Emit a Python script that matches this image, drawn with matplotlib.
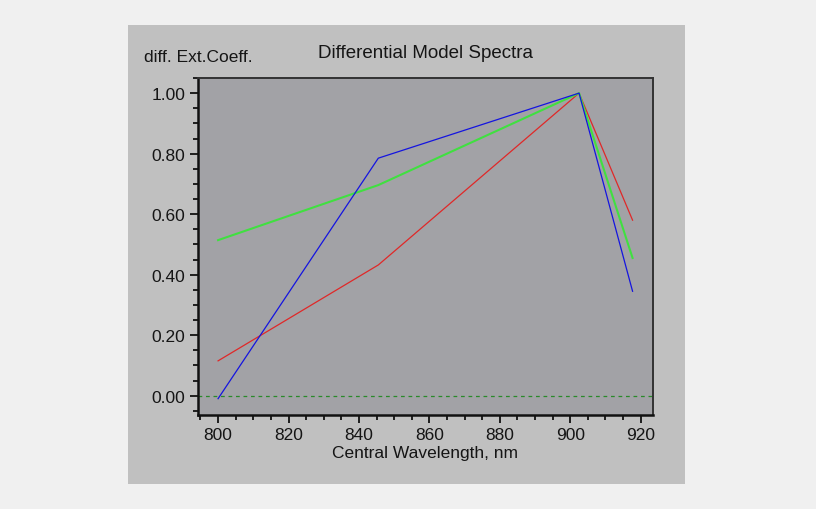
import matplotlib
matplotlib.use("Agg")
import matplotlib.pyplot as plt
from matplotlib.patches import Rectangle
from matplotlib.ticker import MultipleLocator, FormatStrFormatter

plt.rcParams['font.family'] = ['Liberation Sans', 'DejaVu Sans']

wavelength = [800, 845.5, 902.5, 917.7]
blue_vals = [-0.01, 0.785, 1.0, 0.345]
green_vals = [0.514, 0.696, 1.0, 0.455]
red_vals = [0.115, 0.432, 1.0, 0.58]

fig = plt.figure(figsize=(8.16, 5.10), dpi=100)
fig.patch.set_facecolor('#f0f0f0')
fig.patches.append(Rectangle((128/816, 1-485/510), (685-128)/816, (485-26)/510,
                             transform=fig.transFigure, facecolor='#c0c0c0',
                             edgecolor='none', zorder=-10))

ax = fig.add_axes([198/816, 1-416/510, (653-198)/816, (416-79)/510])
ax.set_zorder(5)
ax.set_facecolor('#a2a2a6')

ax.axhline(0, color='#2a8a2a', lw=0.9, ls=(0, (3, 3)), zorder=1)
ax.plot(wavelength, red_vals, color='#e02828', lw=0.9, zorder=3)
ax.plot(wavelength, green_vals, color='#40e040', lw=1.5, zorder=3)
ax.plot(wavelength, blue_vals, color='#1414e0', lw=0.9, zorder=4)

ax.set_xlim(794.3, 923.5)
ax.set_ylim(-0.064, 1.05)
ax.xaxis.set_major_locator(MultipleLocator(20))
ax.xaxis.set_minor_locator(MultipleLocator(5))
ax.yaxis.set_major_locator(MultipleLocator(0.2))
ax.yaxis.set_minor_locator(MultipleLocator(0.05))
ax.yaxis.set_major_formatter(FormatStrFormatter('%.2f'))

ax.tick_params(which='major', direction='out', length=6, width=1.3, color='#111111',
               labelsize=12.5, labelcolor='#151515', pad=3)
ax.tick_params(which='minor', direction='out', length=3.5, width=1.3, color='#111111')

for s in ['left', 'bottom']:
    ax.spines[s].set_linewidth(1.8)
    ax.spines[s].set_color('#111111')
for s in ['top', 'right']:
    ax.spines[s].set_linewidth(1.4)
    ax.spines[s].set_color('#333333')

ax.set_xlabel('Central Wavelength, nm', fontsize=12.5, color='#151515', labelpad=2)
fig.text(425/816, 1-53/510, 'Differential Model Spectra', fontsize=13.5,
         color='#151515', ha='center', va='center')
fig.text(144/816, 1-58/510, 'diff. Ext.Coeff.', fontsize=12.5,
         color='#151515', ha='left', va='center')

fig.savefig('out.png', dpi=100, facecolor=fig.get_facecolor())
